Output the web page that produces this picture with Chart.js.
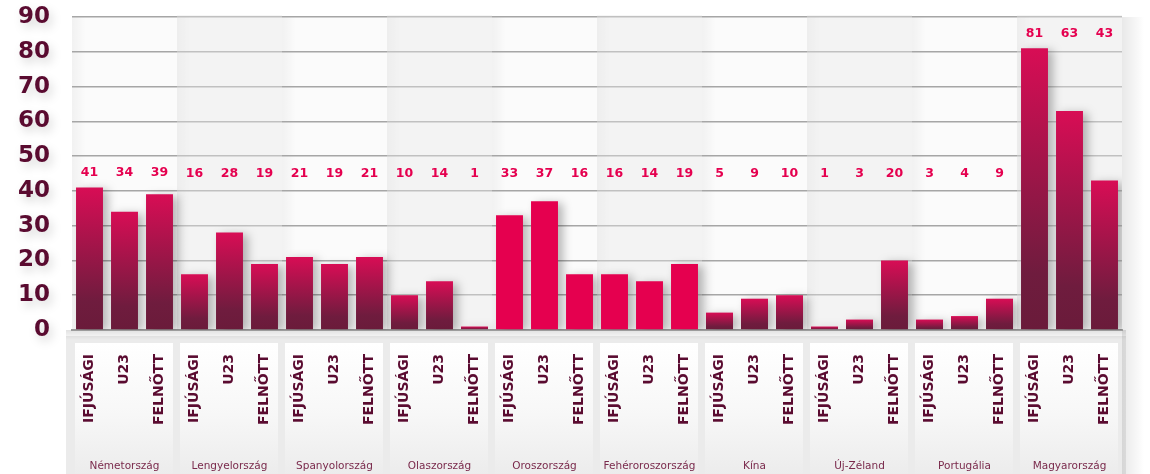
<!DOCTYPE html>
<html lang="hu">
<head>
<meta charset="utf-8">
<title>Érmek korosztályonként</title>
<script src="https://cdn.jsdelivr.net/npm/chart.js@4.4.1/dist/chart.umd.min.js"></script>
<style>
  html, body { margin: 0; padding: 0; background: #ffffff; }
  #wrap { width: 1150px; height: 474px; position: relative; }
</style>
</head>
<body>
<div id="wrap"><canvas id="chart" width="1150" height="474"></canvas></div>
<script>
// Countries, age groups and values per country (IFJÚSÁGI, U23, FELNŐTT)
const countries = ['Németország', 'Lengyelország', 'Spanyolország', 'Olaszország', 'Oroszország',
                   'Fehéroroszország', 'Kína', 'Új-Zéland', 'Portugália', 'Magyarország'];
const ageGroups = ['IFJÚSÁGI', 'U23', 'FELNŐTT'];
const ifjusagi = [41, 16, 21, 10, 33, 16, 5, 1, 3, 81];
const u23      = [34, 28, 19, 14, 37, 14, 9, 3, 4, 63];
const felnott  = [39, 19, 21, 1, 16, 19, 10, 20, 9, 43];
const yTicks   = [0, 10, 20, 30, 40, 50, 60, 70, 80, 90];
// Countries drawn in flat pink instead of the gradient
const flatCountries = ['Oroszország', 'Fehéroroszország'];

// Flatten into one category per (country, age group)
const labels = [];
const values = [];
countries.forEach((c, i) => {
  labels.push(ageGroups[0], ageGroups[1], ageGroups[2]);
  values.push(ifjusagi[i], u23[i], felnott[i]);
});

const FONT = '"DejaVu Sans", sans-serif';
const MAROON = '#5a0b30';
const PINK = '#e5004f';

function groupBounds(chart, g) {
  const xs = chart.scales.x;
  const half = (xs.getPixelForValue(1) - xs.getPixelForValue(0)) / 2;
  return {
    left: xs.getPixelForValue(g * 3) - half,
    right: xs.getPixelForValue(g * 3 + 2) + half,
    center: xs.getPixelForValue(g * 3 + 1)
  };
}

// Panels behind the plot and behind the category labels
const backdrop = {
  id: 'backdrop',
  beforeDraw(chart) {
    const { ctx, chartArea: a } = chart;
    ctx.save();
    ctx.fillStyle = '#ffffff';
    ctx.fillRect(0, 0, chart.width, chart.height);

    // plot panels with a soft shade on their left edge
    countries.forEach((c, g) => {
      const b = groupBounds(chart, g);
      ctx.fillStyle = '#fbfbfb';
      ctx.fillRect(b.left, a.top, b.right - b.left, a.bottom - a.top);
      const sh = ctx.createLinearGradient(b.left, 0, b.left + 14, 0);
      sh.addColorStop(0, 'rgba(0,0,0,0.04)');
      sh.addColorStop(1, 'rgba(0,0,0,0)');
      ctx.fillStyle = sh;
      ctx.fillRect(b.left, a.top, 14, a.bottom - a.top);
    });

    // band under the axis
    ctx.fillStyle = '#ebebeb';
    ctx.fillRect(a.left - 6, a.bottom + 6, a.right - a.left + 10, chart.height - a.bottom - 6);
    const axShadow = ctx.createLinearGradient(0, a.bottom, 0, a.bottom + 10);
    axShadow.addColorStop(0, 'rgba(0,0,0,0.12)');
    axShadow.addColorStop(1, 'rgba(0,0,0,0)');
    ctx.fillStyle = axShadow;
    ctx.fillRect(a.left - 6, a.bottom, a.right - a.left + 10, 10);

    // one card per country
    countries.forEach((c, g) => {
      const b = groupBounds(chart, g);
      const top = a.bottom + 13;
      const grad = ctx.createLinearGradient(0, top, 0, chart.height);
      grad.addColorStop(0, '#ffffff');
      grad.addColorStop(0.55, '#f7f7f7');
      grad.addColorStop(1, '#ececec');
      ctx.fillStyle = grad;
      ctx.fillRect(b.left + 3, top, b.right - b.left - 7, chart.height - top);
    });

    // shade at the right edge of the whole chart
    const rs = ctx.createLinearGradient(a.right, 0, a.right + 22, 0);
    rs.addColorStop(0, 'rgba(0,0,0,0.09)');
    rs.addColorStop(1, 'rgba(0,0,0,0)');
    ctx.fillStyle = rs;
    ctx.fillRect(a.right, a.top, 22, chart.height - a.top);

    // soft glow behind the y-axis numbers
    const ys = chart.scales.y;
    ctx.filter = 'blur(5px)';
    ctx.fillStyle = 'rgba(0,0,0,0.16)';
    ctx.font = 'bold 23px ' + FONT;
    ctx.textAlign = 'right';
    ctx.textBaseline = 'middle';
    yTicks.forEach(v => {
      ctx.fillText(String(v), a.left - 19, ys.getPixelForValue(v) + 5);
    });
    ctx.filter = 'none';
    ctx.restore();
  }
};

// Alternate plot panels are slightly greyed (this also softens their grid lines)
const panelTint = {
  id: 'panelTint',
  beforeDatasetsDraw(chart) {
    const { ctx, chartArea: a } = chart;
    ctx.save();
    countries.forEach((c, g) => {
      if (g % 2 === 1) {
        const b = groupBounds(chart, g);
        ctx.fillStyle = 'rgba(232,232,232,0.4)';
        ctx.fillRect(b.left, a.top - 2, b.right - b.left, a.bottom - a.top + 0.5);
      }
    });
    ctx.restore();
  }
};

// Drop shadow under the bars
const barShadow = {
  id: 'barShadow',
  beforeDatasetsDraw(chart) {
    const ctx = chart.ctx;
    ctx.save();
    ctx.shadowColor = 'rgba(0,0,0,0.28)';
    ctx.shadowBlur = 10;
    ctx.shadowOffsetX = 5;
    ctx.shadowOffsetY = 2;
  },
  afterDatasetsDraw(chart) {
    chart.ctx.restore();
  }
};

// Value labels on one row per country, above the tallest bar of the group
const valueLabels = {
  id: 'valueLabels',
  afterDatasetsDraw(chart) {
    const { ctx } = chart;
    const xs = chart.scales.x, ys = chart.scales.y;
    ctx.save();
    ctx.font = 'bold 12.5px ' + FONT;
    ctx.fillStyle = PINK;
    ctx.textAlign = 'center';
    ctx.textBaseline = 'middle';
    countries.forEach((c, g) => {
      const vals = values.slice(g * 3, g * 3 + 3);
      const level = Math.max(45, Math.max(...vals) + 4.2);
      const y = ys.getPixelForValue(level);
      vals.forEach((v, k) => {
        ctx.fillText(String(v), xs.getPixelForValue(g * 3 + k), y);
      });
    });
    ctx.restore();
  }
};

// Country names under each card
const countryLabels = {
  id: 'countryLabels',
  afterDraw(chart) {
    const { ctx } = chart;
    ctx.save();
    ctx.font = '10.5px ' + FONT;
    ctx.fillStyle = '#7a2a4c';
    ctx.textAlign = 'center';
    ctx.textBaseline = 'middle';
    countries.forEach((c, g) => {
      const b = groupBounds(chart, g);
      ctx.fillText(c, b.center, 466);
    });
    ctx.restore();
  }
};

function barFill(context) {
  if (context.type !== 'data') return PINK;
  const g = Math.floor(context.dataIndex / 3);
  if (flatCountries.includes(countries[g])) return PINK;
  const chart = context.chart;
  const ys = chart.scales.y;
  if (!ys || !chart.chartArea) return '#a01848';
  const top = ys.getPixelForValue(context.parsed.y);
  const base = ys.getPixelForValue(0);
  const grad = chart.ctx.createLinearGradient(0, top, 0, base);
  grad.addColorStop(0, '#d80d55');
  grad.addColorStop(0.8, '#6f1c3e');
  grad.addColorStop(1, '#6a1b3a');
  return grad;
}

new Chart(document.getElementById('chart'), {
  type: 'bar',
  data: {
    labels: labels,
    datasets: [{
      data: values,
      backgroundColor: barFill,
      borderWidth: 0,
      barPercentage: 0.77,
      categoryPercentage: 1.0
    }]
  },
  options: {
    responsive: false,
    animation: false,
    events: [],
    layout: { padding: { top: 17, right: 28, left: 0, bottom: 0 } },
    plugins: {
      legend: { display: false },
      tooltip: { enabled: false }
    },
    scales: {
      x: {
        grid: { display: false, drawTicks: false },
        border: { display: true, color: '#9c9c9c', width: 2 },
        ticks: {
          autoSkip: false,
          maxRotation: 90,
          minRotation: 90,
          padding: 24,
          color: MAROON,
          font: { family: FONT, size: 14, weight: 'bold' }
        },
        afterFit(scale) { scale.height = 144; }
      },
      y: {
        min: 0,
        max: 90,
        afterBuildTicks(scale) { scale.ticks = yTicks.map(v => ({ value: v })); },
        grid: { color: '#a6a6a6', lineWidth: 1.6, drawTicks: false },
        border: { display: false },
        ticks: {
          padding: 22,
          color: MAROON,
          font: { family: FONT, size: 23, weight: 'bold' }
        },
        afterFit(scale) {
          scale.width = 72;
          // the outer labels may overhang; the layout padding handles the top edge
          scale.paddingTop = 0;
          scale.paddingBottom = 0;
        }
      }
    }
  },
  plugins: [backdrop, panelTint, barShadow, valueLabels, countryLabels]
});
</script>
</body>
</html>
